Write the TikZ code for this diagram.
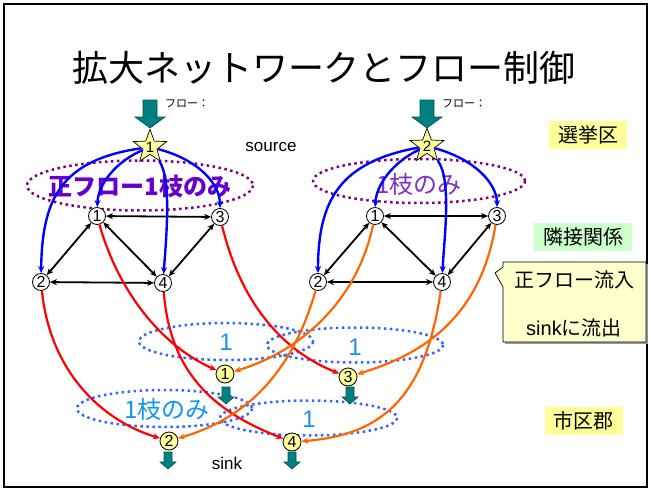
\documentclass[tikz,border=0pt]{standalone}
\usepackage{fontspec}
\setmainfont{Liberation Sans}
\newfontfamily\jp{Noto Sans CJK JP}
\usetikzlibrary{shapes.geometric,arrows.meta}
\definecolor{teal1}{RGB}{0,128,128}
\definecolor{teal2}{RGB}{0,80,80}
\definecolor{starY}{RGB}{255,255,153}
\definecolor{lblY}{RGB}{255,255,153}
\definecolor{lblG}{RGB}{204,255,204}
\definecolor{callY}{RGB}{255,255,204}
\definecolor{purpD}{RGB}{128,0,128}
\definecolor{purpT}{RGB}{102,0,204}
\definecolor{purpL}{RGB}{128,48,192}
\definecolor{dotB}{RGB}{51,102,255}
\definecolor{txtB}{RGB}{20,150,240}
\definecolor{orng}{RGB}{255,102,0}
\begin{document}
\begin{tikzpicture}[x=1pt,y=-1pt,
  gnode/.style={circle,draw=black,fill=white,line width=0.8pt,minimum size=17pt,inner sep=0pt,font=\fontsize{16}{16}\selectfont},
  snode/.style={circle,draw=black,fill=starY,line width=0.8pt,minimum size=18pt,inner sep=0pt,font=\fontsize{16}{16}\selectfont},
  starnode/.style={star,star points=5,star point ratio=2.4,draw=black,fill=starY,line width=0.7pt,minimum size=34pt,inner sep=0pt,font=\fontsize{15}{15}\selectfont},
  blk/.style={line width=1.8pt,{Stealth[length=7pt,width=6pt]}-{Stealth[length=7pt,width=6pt]}},
  bluec/.style={blue,line width=2.4pt,-{Stealth[length=7pt,width=6pt]}},
  redc/.style={red,line width=2.2pt,-{Stealth[length=7pt,width=6pt]}},
  orc/.style={orng,line width=2.2pt,-{Stealth[length=7pt,width=6pt]}},
  pdot/.style={purpD,line width=2.5pt,dash pattern=on 2.5pt off 3.5pt},
  bdot/.style={dotB,line width=2.5pt,dash pattern=on 2.5pt off 3.5pt},
  tealarrow/.style={fill=teal1,draw=teal2,line width=0.6pt},
  lbl/.style={font=\jp\fontsize{20}{20}\selectfont,inner xsep=9pt,inner ysep=5pt}
]
\useasboundingbox (0,0) rectangle (651,490);
\fill[white] (0,0) rectangle (651,490);
\draw[line width=2pt] (4,4) rectangle (647,487);

% title
\node (title) [font=\jp\fontsize{36}{36}\selectfont] at (324,68) {拡大ネットワークとフロー制御};

% source arrows
\draw[tealarrow] (143,100) -- (157,100) -- (157,117) -- (165,117) -- (150,128) -- (135,117) -- (143,117) -- cycle;
\draw[tealarrow] (420,100) -- (434,100) -- (434,117) -- (442,117) -- (427,128) -- (412,117) -- (420,117) -- cycle;
\node (fl1) [anchor=west,font=\jp\fontsize{11}{11}\selectfont,inner sep=0pt] at (165,104) {フロー：};
\node (fl2) [anchor=west,font=\jp\fontsize{11}{11}\selectfont,inner sep=0pt] at (442,104) {フロー：};
\node (src) [font=\fontsize{17}{17}\selectfont] at (271,147) {source};

% ellipses purple
\draw[pdot] (140,185.5) ellipse [x radius=113, y radius=25];
\draw[pdot] (419,181) ellipse [x radius=106, y radius=22];
\node (t1) [text=purpT,font=\jp\bfseries\fontsize{24}{24}\selectfont] at (140,186) {正フロー1枝のみ};
\node (t2) [text=purpL,font=\jp\fontsize{24}{24}\selectfont] at (419,184) {1枝のみ};

% blue dotted ellipses
\draw[bdot] (226,341.5) ellipse [x radius=87, y radius=18.5];
\draw[bdot] (355,345) ellipse [x radius=88, y radius=17.5];
\draw[bdot] (164.5,408.5) ellipse [x radius=87.5, y radius=18.5];
\draw[bdot] (308.5,418) ellipse [x radius=88.5, y radius=17.5];
\node (b1) [text=txtB,font=\fontsize{24}{24}\selectfont] at (226,342) {1};
\node (b2) [text=txtB,font=\fontsize{24}{24}\selectfont] at (355,347) {1};
\node (b3) [text=txtB,font=\jp\fontsize{24}{24}\selectfont] at (167,409) {1枝のみ};
\node (b4) [text=txtB,font=\fontsize{24}{24}\selectfont] at (309,419) {1};

% nodes
\node (s1) [starnode] at (150,147) {1};
\node (s2) [starnode] at (427,146) {2};
\node (L1) [gnode] at (97,216) {1};
\node (L3) [gnode] at (220,217) {3};
\node (L2) [gnode] at (41,282) {2};
\node (L4) [gnode] at (163,283) {4};
\node (R1) [gnode] at (375,216) {1};
\node (R3) [gnode] at (497,216) {3};
\node (R2) [gnode] at (318,282) {2};
\node (R4) [gnode] at (442,282) {4};
\node (S1) [snode] at (225,374) {1};
\node (S3) [snode] at (348,377) {3};
\node (S2) [snode] at (169,441) {2};
\node (S4) [snode] at (292,442) {4};

% black adjacency arrows
\foreach \p in {L,R}{
  \draw[blk] (\p1) -- (\p3);
  \draw[blk] (\p1) -- (\p2);
  \draw[blk] (\p1) -- (\p4);
  \draw[blk] (\p3) -- (\p4);
  \draw[blk] (\p2) -- (\p4);
}

% blue curves
\draw[bluec] (s1) .. controls (60,160) and (42,200) .. (L2);
\draw[bluec] (s1) .. controls (115,162) and (98,185) .. (L1);
\draw[bluec] (s1) .. controls (172,180) and (166,240) .. (L4);
\draw[bluec] (s1) .. controls (200,160) and (220,185) .. (L3);
\draw[bluec] (s2) .. controls (340,162) and (318,200) .. (R2);
\draw[bluec] (s2) .. controls (393,162) and (376,185) .. (R1);
\draw[bluec] (s2) .. controls (452,180) and (444,240) .. (R4);
\draw[bluec] (s2) .. controls (477,160) and (497,185) .. (R3);

% red curves
\draw[redc] (L1) .. controls (118,290) and (160,345) .. (S1);
\draw[redc] (L3) .. controls (240,300) and (280,350) .. (S3);
\draw[redc] (L2) .. controls (50,370) and (100,420) .. (S2);
\draw[redc] (L4) .. controls (170,370) and (210,410) .. (S4);

% orange curves
\draw[orc] (R1) .. controls (355,310) and (290,355) .. (S1);
\draw[orc] (R2) .. controls (290,380) and (240,420) .. (S2);
\draw[orc] (R3) .. controls (480,320) and (420,355) .. (S3);
\draw[orc] (R4) .. controls (425,400) and (380,435) .. (S4);

% sink arrows
\foreach \cx/\cy in {226/387,350/387,168/452,292/452}{
  \draw[tealarrow] (\cx-4,\cy) -- (\cx+4,\cy) -- (\cx+4,\cy+10) -- (\cx+8,\cy+10) -- (\cx,\cy+17) -- (\cx-8,\cy+10) -- (\cx-4,\cy+10) -- cycle;
}
\node (sink) [font=\fontsize{17}{17}\selectfont] at (227,463) {sink};

% right labels
\node (senkyo) [lbl,fill=lblY] at (588,135) {選挙区};
\node (rinsetsu) [lbl,fill=lblG] at (583,237) {隣接関係};
\node (shiku) [lbl,fill=lblY] at (583.5,421) {市区郡};

% callout
\fill[black!40] (505,264) -- (648,264) -- (648,344) -- (505,344) -- cycle;
\draw[fill=callY,line width=0.7pt] (503,262) -- (646,262) -- (646,342) -- (503,342) -- (503,287) -- (495,273) -- (503,267) -- cycle;
\node (c1) [font=\jp\fontsize{20}{20}\selectfont] at (574,280) {正フロー流入};
\node (c2) [font=\fontsize{20}{20}\selectfont] at (574,328) {sink{\jp に流出}};
\end{tikzpicture}
\end{document}
